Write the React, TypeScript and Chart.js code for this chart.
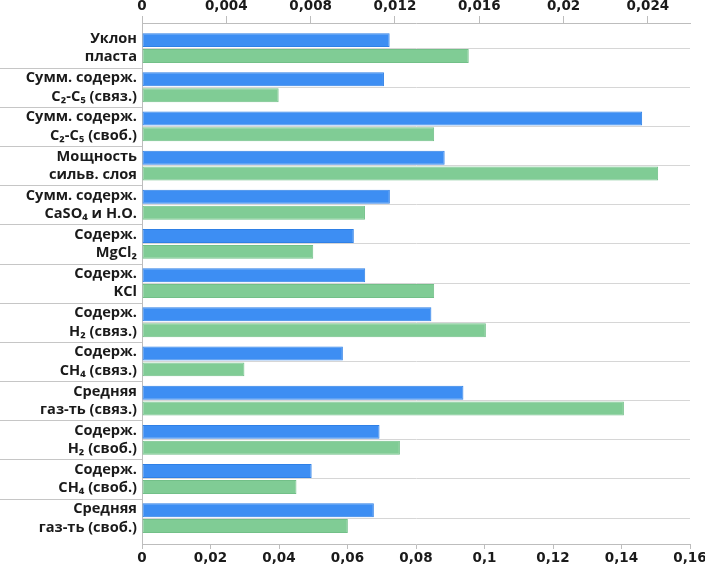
import React, { useEffect, useRef } from "react";
import { Chart, registerables } from "chart.js";

Chart.register(...registerables);

const categories: string[][] = [
  ["Уклон", "пласта"],
  ["Сумм. содерж.", "C₂-C₅ (связ.)"],
  ["Сумм. содерж.", "C₂-C₅ (своб.)"],
  ["Мощность", "сильв. слоя"],
  ["Сумм. содерж.", "CaSO₄ и Н.О."],
  ["Содерж.", "MgCl₂"],
  ["Содерж.", "KCl"],
  ["Содерж.", "H₂ (связ.)"],
  ["Содерж.", "CH₄ (связ.)"],
  ["Средняя", "газ-ть (связ.)"],
  ["Содерж.", "H₂ (своб.)"],
  ["Содерж.", "CH₄ (своб.)"],
  ["Средняя", "газ-ть (своб.)"],
];

// blue series, read on the top axis
const blueValues: number[] = [
  0.01175, 0.01148, 0.02373, 0.01436, 0.01176, 0.01005, 0.01059, 0.01373,
  0.00953, 0.01525, 0.01127, 0.00805, 0.011,
];

// green series, read on the bottom axis
const greenValues: number[] = [
  0.0954, 0.0399, 0.0853, 0.1507, 0.0651, 0.05, 0.0853, 0.1004, 0.0299,
  0.1407, 0.0753, 0.0451, 0.0601,
];

const topTicks: number[] = [0, 0.004, 0.008, 0.012, 0.016, 0.02, 0.024];
const bottomTicks: number[] = [0, 0.02, 0.04, 0.06, 0.08, 0.1, 0.12, 0.14, 0.16];

const fmt = (v: number) => String(Number(v.toFixed(4))).replace(".", ",");

const separatorPlugin = {
  id: "separators",
  afterDraw(chart: any) {
    const y = chart.scales.y;
    const ctx = chart.ctx;
    ctx.save();
    ctx.strokeStyle = "#c6c6c6";
    ctx.lineWidth = 1;
    for (let i = 0; i < categories.length - 1; i++) {
      const py = Math.round(y.getPixelForValue(i + 0.5)) + 0.5;
      ctx.beginPath();
      ctx.moveTo(0, py);
      ctx.lineTo(chart.chartArea.left, py);
      ctx.stroke();
    }
    ctx.restore();
  },
};

export default function App() {
  const ref = useRef<HTMLCanvasElement | null>(null);

  useEffect(() => {
    if (!ref.current) return;
    Chart.defaults.color = "#1a1a1a";
    const labelFont = {
      family: "'Open Sans', 'Noto Sans', 'DejaVu Sans', sans-serif",
      size: 14.6,
      weight: "bold" as const,
      lineHeight: 1.26,
    };
    const numFont = {
      family: "'DejaVu Sans', 'Noto Sans', sans-serif",
      size: 13.5,
      weight: "bold" as const,
      lineHeight: 1.2,
    };
    const chart = new Chart(ref.current, {
      type: "bar",
      data: {
        datasets: [
          {
            label: "blue",
            data: blueValues.map((v, i) => ({ x: v, y: i })),
            xAxisID: "x2",
            yAxisID: "y",
            backgroundColor: "#3d8ef3",
            borderColor: "#2f80e6",
            borderWidth: 1,
            borderSkipped: false,
          },
          {
            label: "green",
            data: greenValues.map((v, i) => ({ x: v, y: i })),
            xAxisID: "x",
            yAxisID: "y",
            backgroundColor: "#80cc95",
            borderColor: "#72c088",
            borderWidth: 1,
            borderSkipped: false,
          },
        ],
      },
      options: {
        indexAxis: "y",
        animation: false,
        responsive: true,
        maintainAspectRatio: false,
        layout: { padding: { left: 0, right: 15, top: 0, bottom: 0 } },
        plugins: { legend: { display: false }, tooltip: { enabled: false } },
        datasets: { bar: { categoryPercentage: 0.81, barPercentage: 0.88 } },
        scales: {
          y: {
            type: "linear",
            position: "left",
            reverse: true,
            bounds: "data",
            offset: false,
            min: -0.64,
            max: 12.66,
            afterBuildTicks: (scale: any) => {
              scale.ticks = categories.map((_, i) => ({ value: i }));
            },
            afterFit: (scale: any) => {
              scale.width = 142;
              scale.paddingTop = 0;
              scale.paddingBottom = 0;
            },
            ticks: {
              font: labelFont,
              color: "#1a1a1a",
              padding: 5,
              autoSkip: false,
              callback: (v: any) => categories[Math.round(Number(v))],
            },
            grid: { color: "#d6d6d6", drawTicks: false, lineWidth: 1, offset: false },
            border: { display: true, color: "#bdbdbd" },
          },
          x: {
            type: "linear",
            position: "bottom",
            bounds: "data",
            min: 0,
            max: 0.16,
            afterBuildTicks: (scale: any) => {
              scale.ticks = bottomTicks.map((v) => ({ value: v }));
            },
            afterFit: (scale: any) => {
              scale.height = 26;
              scale.paddingLeft = 0;
              scale.paddingRight = 0;
            },
            ticks: {
              font: numFont,
              color: "#1a1a1a",
              padding: 1,
              maxRotation: 0,
              callback: (v: any) => fmt(Number(v)),
            },
            grid: { drawOnChartArea: false, drawTicks: true, tickLength: 5, color: "#bdbdbd" },
            border: { display: true, color: "#bdbdbd" },
          },
          x2: {
            type: "linear",
            position: "top",
            bounds: "data",
            min: 0,
            max: 0.026,
            afterBuildTicks: (scale: any) => {
              scale.ticks = topTicks.map((v) => ({ value: v }));
            },
            afterFit: (scale: any) => {
              scale.height = 23;
              scale.paddingLeft = 0;
              scale.paddingRight = 0;
            },
            ticks: {
              font: numFont,
              color: "#1a1a1a",
              padding: 1,
              maxRotation: 0,
              callback: (v: any) => fmt(Number(v)),
            },
            grid: { drawOnChartArea: false, drawTicks: true, tickLength: 7, color: "#bdbdbd" },
            border: { display: true, color: "#bdbdbd" },
          },
        },
      },
      plugins: [separatorPlugin],
    });
    return () => chart.destroy();
  }, []);

  return (
    <div style={{ position: "fixed", left: 0, top: 0, width: 705, height: 570, background: "#fff" }}>
      <canvas ref={ref} />
    </div>
  );
}
